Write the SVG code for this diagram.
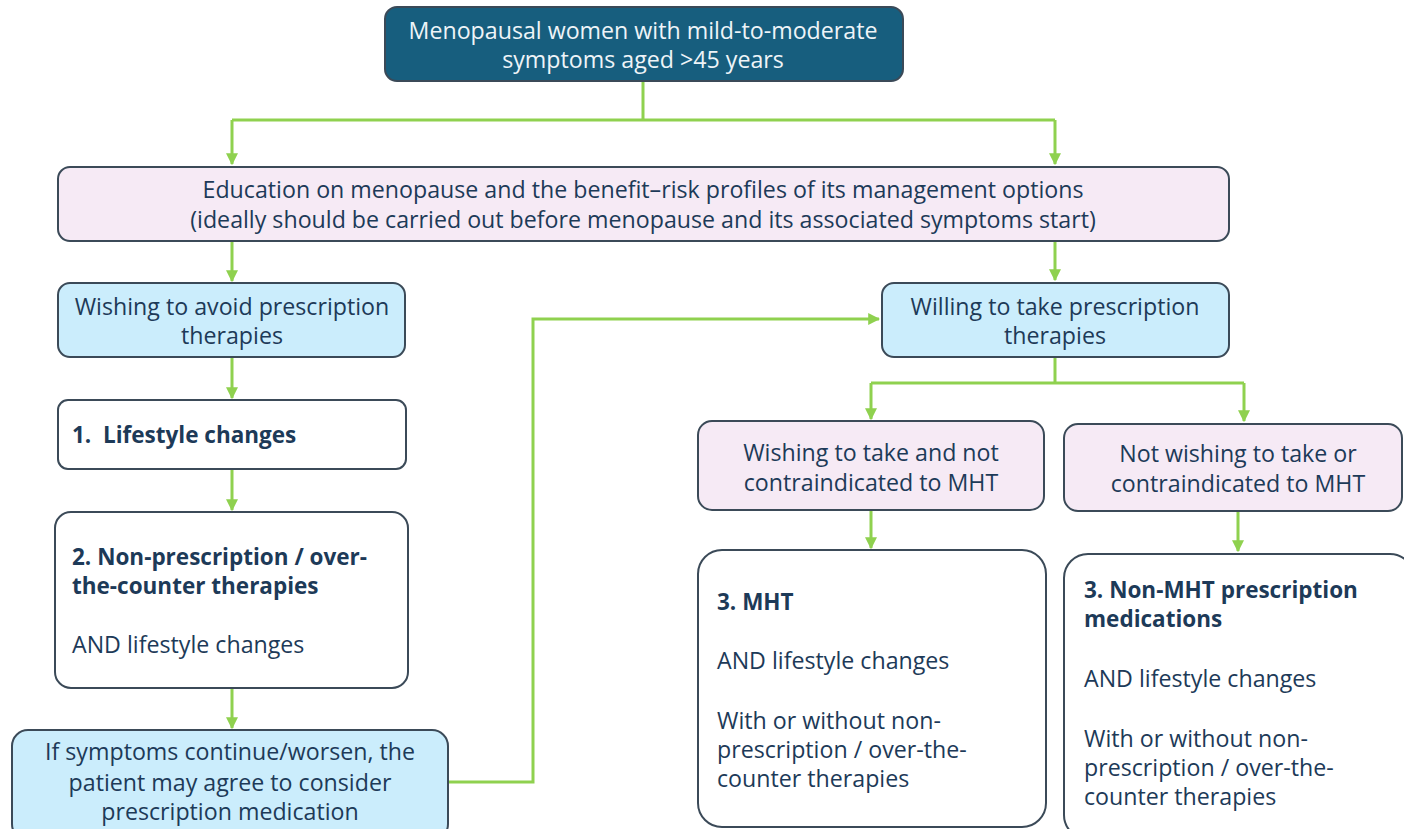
<svg xmlns="http://www.w3.org/2000/svg" width="1404" height="829" viewBox="0 0 1404 829">
<defs>
<marker id="ah" viewBox="0 0 10 10" refX="9" refY="5" markerWidth="4" markerHeight="4" orient="auto" markerUnits="strokeWidth">
<path d="M0,0 L10,5 L0,10 z" fill="#8fd14f"/>
</marker>
<style>
.box{stroke:#3b4a58;stroke-width:2}
.dark{fill:#175e7e}
.pink{fill:#f6eaf5}
.blue{fill:#cbedfc}
.white{fill:#ffffff}
text{font-family:"Open Sans","Noto Sans",sans-serif;font-size:23.2px;fill:#1d3a58}
.c{text-anchor:middle}
.w{fill:#eef4f8}
.b{font-weight:bold;font-size:22.5px}
.conn{fill:none;stroke:#8fd14f;stroke-width:3}
</style>
</defs>
<rect width="1404" height="829" fill="#ffffff"/>
<g id="connectors">
<path class="conn" d="M643,81 V120 M232,120 H1055"/>
<path class="conn" d="M232,120 V164" marker-end="url(#ah)"/>
<path class="conn" d="M1055,120 V164" marker-end="url(#ah)"/>
<path class="conn" d="M232,241 V281" marker-end="url(#ah)"/>
<path class="conn" d="M1055,241 V280" marker-end="url(#ah)"/>
<path class="conn" d="M232,357 V398" marker-end="url(#ah)"/>
<path class="conn" d="M232,469 V510" marker-end="url(#ah)"/>
<path class="conn" d="M232,688 V728" marker-end="url(#ah)"/>
<path class="conn" d="M448,782 H533 V319 H879" marker-end="url(#ah)"/>
<path class="conn" d="M1055,357 V383 M871,383 H1244"/>
<path class="conn" d="M871,383 V419" marker-end="url(#ah)"/>
<path class="conn" d="M1244,383 V421" marker-end="url(#ah)"/>
<path class="conn" d="M871,510 V548" marker-end="url(#ah)"/>
<path class="conn" d="M1238,510 V551" marker-end="url(#ah)"/>
</g>
<g id="n-top">
<rect class="box dark" x="385" y="7" width="518" height="74" rx="12"/>
<text class="c w" x="643" y="39">Menopausal women with mild-to-moderate</text>
<text class="c w" x="643" y="68">symptoms aged &gt;45 years</text>
</g>
<g id="n-edu">
<rect class="box pink" x="58" y="167" width="1171" height="74" rx="12"/>
<text class="c" x="643" y="198">Education on menopause and the benefit–risk profiles of its management options</text>
<text class="c" x="643" y="228">(ideally should be carried out before menopause and its associated symptoms start)</text>
</g>
<g id="n-avoid">
<rect class="box blue" x="58" y="283" width="347" height="74" rx="12"/>
<text class="c" x="232" y="315">Wishing to avoid prescription</text>
<text class="c" x="232" y="344">therapies</text>
</g>
<g id="n-willing">
<rect class="box blue" x="882" y="283" width="347" height="74" rx="12"/>
<text class="c" x="1055" y="315">Willing to take prescription</text>
<text class="c" x="1055" y="344">therapies</text>
</g>
<g id="n-lifestyle">
<rect class="box white" x="58" y="400" width="348" height="69" rx="10"/>
<text class="b" x="72" y="443" style="white-space:pre">1.  Lifestyle changes</text>
</g>
<g id="n-otc">
<rect class="box white" x="55" y="512" width="353" height="176" rx="16"/>
<text class="b" x="72" y="565">2. Non-prescription / over-</text>
<text class="b" x="72" y="594">the-counter therapies</text>
<text x="72" y="653">AND lifestyle changes</text>
</g>
<g id="n-worsen">
<rect class="box blue" x="12" y="730" width="436" height="110" rx="16"/>
<text class="c" x="230" y="760">If symptoms continue/worsen, the</text>
<text class="c" x="230" y="791">patient may agree to consider</text>
<text class="c" x="230" y="820">prescription medication</text>
</g>
<g id="n-mht-yes">
<rect class="box pink" x="698" y="421" width="346" height="89" rx="14"/>
<text class="c" x="871" y="461">Wishing to take and not</text>
<text class="c" x="871" y="491">contraindicated to MHT</text>
</g>
<g id="n-mht-no">
<rect class="box pink" x="1064" y="424" width="338" height="87" rx="14"/>
<text class="c" x="1238" y="462">Not wishing to take or</text>
<text class="c" x="1238" y="492">contraindicated to MHT</text>
</g>
<g id="n-mht">
<rect class="box white" x="698" y="550" width="348" height="277" rx="24"/>
<text class="b" x="717" y="610">3. MHT</text>
<text x="717" y="669">AND lifestyle changes</text>
<text x="717" y="729">With or without non-</text>
<text x="717" y="758">prescription / over-the-</text>
<text x="717" y="787">counter therapies</text>
</g>
<g id="n-nonmht">
<rect class="box white" x="1064" y="554" width="350" height="285" rx="24"/>
<text class="b" x="1084" y="598">3. Non-MHT prescription</text>
<text class="b" x="1084" y="627">medications</text>
<text x="1084" y="687">AND lifestyle changes</text>
<text x="1084" y="747">With or without non-</text>
<text x="1084" y="776">prescription / over-the-</text>
<text x="1084" y="805">counter therapies</text>
</g>
</svg>
